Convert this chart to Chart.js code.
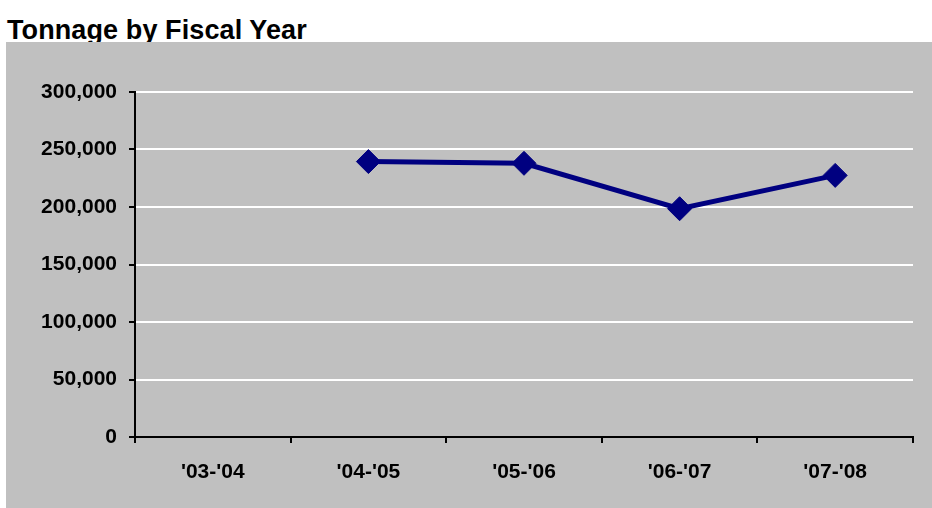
<!DOCTYPE html>
<html>
<head>
<meta charset="utf-8">
<script src="https://cdn.jsdelivr.net/npm/chart.js@4"></script>
<style>
  body { margin: 0; background: #fff; width: 932px; height: 508px; position: relative; overflow: hidden; }
  #title { position: absolute; left: 7px; top: 15px; font: bold 27px "Liberation Sans", Arial, sans-serif; color: #000; letter-spacing: 0.1px; }
  #box { position: absolute; left: 6px; top: 42px; width: 926px; height: 466px; background: #c0c0c0; }
</style>
</head>
<body>
<div id="title">Tonnage by Fiscal Year</div>
<div id="box"><canvas id="tonnage"></canvas></div>
<script>
// data
const years = ["'03-'04", "'04-'05", "'05-'06", "'06-'07", "'07-'08"];
const tonnage = [null, 239500, 238000, 198500, 227500];
const yTicks = [0, 50000, 100000, 150000, 200000, 250000, 300000];

const labelFont = { family: 'Liberation Sans', size: 21, weight: 'bold' };

new Chart(document.getElementById('tonnage').getContext('2d'), {
    type: 'line',
    data: {
        labels: years,
        datasets: [{
            label: 'Tonnage',
            data: tonnage,
            borderColor: '#000080',
            backgroundColor: '#000080',
            borderWidth: 5,
            pointStyle: 'rectRot',
            pointRadius: 12,
            pointHoverRadius: 12,
            pointBorderWidth: 1,
            tension: 0,
            spanGaps: false
        }]
    },
    options: {
        responsive: true,
        maintainAspectRatio: false,
        animation: false,
        layout: { padding: { left: 0, top: 50, right: 19, bottom: 21 } },
        plugins: { legend: { display: false }, tooltip: { enabled: false } },
        scales: {
            x: {
                offset: true,
                grid: { offset: true, drawOnChartArea: false, tickLength: 6, tickColor: '#000', lineWidth: 2 },
                border: { color: '#000', width: 2 },
                ticks: { color: '#000', font: labelFont, padding: 17, maxRotation: 0 },
                afterFit: (scale) => { scale.height = 50; }
            },
            y: {
                min: 0,
                max: 300000,
                afterBuildTicks: (scale) => { scale.ticks = yTicks.map(v => ({ value: v })); },
                grid: { color: '#fff', lineWidth: 2, tickLength: 6, tickColor: '#000' },
                border: { color: '#000', width: 2 },
                ticks: {
                    color: '#000',
                    font: labelFont,
                    padding: 12,
                    callback: (v) => v.toLocaleString('en-US')
                },
                afterFit: (scale) => { scale.width = 129; }
            }
        }
    }
});
</script>
</body>
</html>
